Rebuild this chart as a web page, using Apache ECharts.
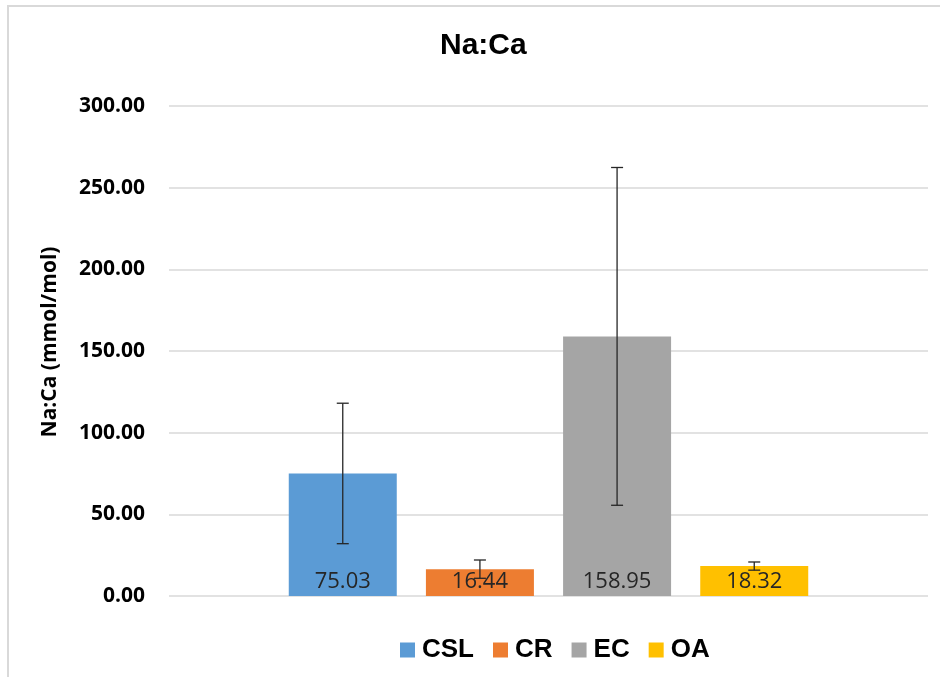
<!DOCTYPE html>
<html>
<head>
<meta charset="utf-8">
<script src="https://cdn.jsdelivr.net/npm/echarts@6/dist/echarts.min.js"></script>
<style>
html,body{margin:0;padding:0;background:#fff;}
#chart{width:940px;height:677px;}
</style>
</head>
<body>
<div id="chart"></div>
<script>
const seriesNames = ['CSL', 'CR', 'EC', 'OA'];
const meanValues = [75.03, 16.44, 158.95, 18.32];
const errorValues = [43.0, 5.6, 103.4, 2.5];
const seriesColors = ['#5B9BD5', '#ED7D31', '#A5A5A5', '#FFC000'];
const yTicks = { min: 0, max: 300, interval: 50 };
const categories = [''];

const BAR_WIDTH = 108;
const BAR_GAP = 0.27;

const chart = echarts.init(document.getElementById('chart'));

const barSeries = seriesNames.map((name, i) => ({
  name: name,
  type: 'bar',
  data: [meanValues[i]],
  barWidth: BAR_WIDTH,
  barGap: (BAR_GAP * 100) + '%',
  itemStyle: { color: seriesColors[i] },
  label: {
    show: true,
    position: 'insideBottom',
    distance: 3,
    formatter: p => p.value.toFixed(2),
    fontFamily: 'Open Sans',
    fontSize: 22,
    color: '#262626'
  },
  z: 2
}));

const errorSeries = seriesNames.map((name, i) => ({
  name: name,
  type: 'custom',
  z: 5,
  silent: true,
  data: [[0, meanValues[i] - errorValues[i], meanValues[i] + errorValues[i]]],
  renderItem: function (params, api) {
    const step = BAR_WIDTH * (1 + BAR_GAP);
    const offset = (i - (seriesNames.length - 1) / 2) * step;
    const lo = api.coord([api.value(0), api.value(1)]);
    const hi = api.coord([api.value(0), api.value(2)]);
    const x = lo[0] + offset;
    const cap = 6;
    const style = { stroke: '#262626', lineWidth: 1.3, fill: null };
    return {
      type: 'group',
      children: [
        { type: 'line', shape: { x1: x, y1: lo[1], x2: x, y2: hi[1] }, style: style },
        { type: 'line', shape: { x1: x - cap, y1: hi[1], x2: x + cap, y2: hi[1] }, style: style },
        { type: 'line', shape: { x1: x - cap, y1: lo[1], x2: x + cap, y2: lo[1] }, style: style }
      ]
    };
  }
}));

chart.setOption({
  backgroundColor: '#ffffff',
  animation: false,
  title: {
    text: 'Na:Ca',
    left: 435,
    top: 26,
    textStyle: { fontFamily: 'Liberation Sans', fontWeight: 'bold', fontSize: 30, color: '#000' }
  },
  legend: {
    data: seriesNames,
    bottom: 9,
    left: 395,
    icon: 'rect',
    itemWidth: 15,
    itemHeight: 15,
    itemGap: 19,
    textStyle: { fontFamily: 'Liberation Sans', fontWeight: 'bold', fontSize: 26, color: '#000', padding: [0, 0, 0, 2] }
  },
  graphic: [{
    type: 'rect',
    shape: { x: 8, y: 6, width: 960, height: 700 },
    style: { fill: null, stroke: '#d9d9d9', lineWidth: 2 },
    silent: true
  }],
  grid: { left: 169, right: 12, top: 106, bottom: 81 },
  xAxis: {
    type: 'category',
    data: categories,
    axisLine: { show: false },
    axisTick: { show: false },
    axisLabel: { show: false }
  },
  yAxis: {
    type: 'value',
    min: yTicks.min,
    max: yTicks.max,
    interval: yTicks.interval,
    name: 'Na:Ca (mmol/mol)',
    nameLocation: 'middle',
    nameGap: 108,
    nameTextStyle: { fontFamily: 'Open Sans', fontWeight: 'bold', fontSize: 21, color: '#000', padding: [0, 0, 0, 18] },
    axisLine: { show: false },
    axisTick: { show: false },
    axisLabel: {
      margin: 24,
      formatter: v => v.toFixed(2),
      fontFamily: 'Open Sans',
      fontWeight: 'bold',
      fontSize: 21,
      color: '#000'
    },
    splitLine: { lineStyle: { color: '#d9d9d9', width: 1.5 } }
  },
  series: barSeries.concat(errorSeries)
});
</script>
</body>
</html>
